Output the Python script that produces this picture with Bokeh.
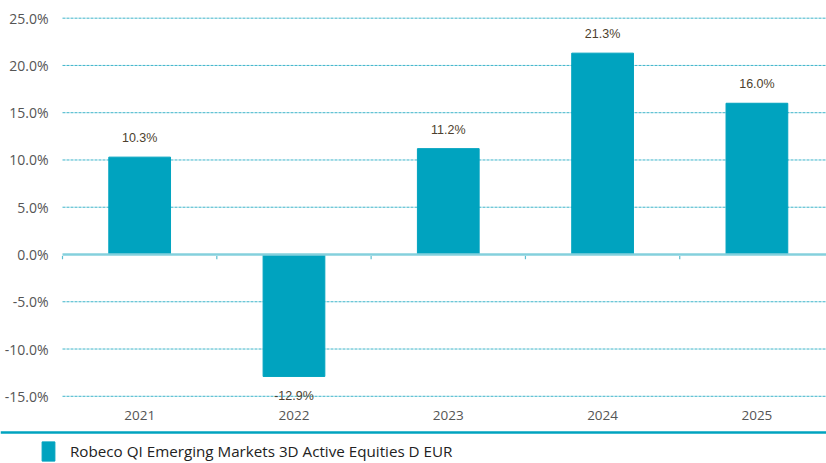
from bokeh.plotting import figure
from bokeh.models import (ColumnDataSource, Range1d, FixedTicker, PrintfTickFormatter,
                          Legend, LegendItem)
from bokeh.core.properties import value
from bokeh.embed import file_html
from bokeh.resources import INLINE

years = ["2021", "2022", "2023", "2024", "2025"]
returns = [10.3, -12.9, 11.2, 21.3, 16.0]
y_ticks = [-15, -10, -5, 0, 5, 10, 15, 20, 25]
series_name = "Robeco QI Emerging Markets 3D Active Equities D EUR"

BAR = "#00a3bf"
GRID = "#3db4ca"
ZERO = "#84d0dd"

X_START, X_END = -0.4018, 4.951

xs = [i + 0.5 for i in range(len(years))]
labels = ["%.1f%%" % v for v in returns]
offsets = [-19 if v >= 0 else 20 for v in returns]
src = ColumnDataSource(dict(x=xs, top=returns, label=labels, yoff=offsets))

p = figure(width=826, height=463, output_backend="svg", toolbar_location=None,
           x_range=Range1d(X_START, X_END), y_range=Range1d(-22.11, 26.87),
           x_axis_location="above",
           min_border_left=0, min_border_right=0, min_border_top=0,
           min_border_bottom=0)
p.outline_line_color = None
p.background_fill_color = "white"

# dashed horizontal grid, starting at the plot's left edge
grid_ticks = [t for t in y_ticks if t != 0]
p.segment(x0=[0] * len(grid_ticks), y0=grid_ticks,
          x1=[X_END] * len(grid_ticks), y1=grid_ticks,
          line_color=GRID, line_width=1, line_dash="3 1")

bars = p.vbar(x="x", top="top", bottom=0, width=0.4, source=src, color=BAR)

# zero line with category boundary ticks
p.segment(x0=[0], y0=[0], x1=[X_END], y1=[0], line_color=ZERO, line_width=2.5)
p.segment(x0=list(range(len(years))), y0=[-0.15] * len(years),
          x1=list(range(len(years))), y1=[-0.5] * len(years),
          line_color="#5ebfd0", line_width=1.2)

p.text(x="x", y="top", text="label", source=src, y_offset="yoff",
       text_align="center", text_baseline="middle",
       text_font=value("Liberation Sans"), text_font_size="12.5px",
       text_color="#4d3f2e")

p.xgrid.grid_line_color = None
p.ygrid.grid_line_color = None

p.yaxis.fixed_location = 0
p.yaxis.ticker = FixedTicker(ticks=y_ticks)
p.yaxis.formatter = PrintfTickFormatter(format="%.1f%%")
p.yaxis.axis_line_color = None
p.yaxis.major_tick_line_color = None
p.yaxis.major_tick_out = 0
p.yaxis.major_tick_in = 0
p.yaxis.minor_tick_line_color = None
p.yaxis.major_label_standoff = 14
p.yaxis.major_label_text_font = "Open Sans"
p.yaxis.major_label_text_font_size = "14px"
p.yaxis.major_label_text_color = "#555555"

# category axis: its line doubles as the separator above the legend
p.xaxis.fixed_location = -18.80
p.xaxis.ticker = FixedTicker(ticks=xs)
p.xaxis.major_label_overrides = {x: y for x, y in zip(xs, years)}
p.xaxis.axis_line_color = BAR
p.xaxis.axis_line_width = 2.5
p.xaxis.major_tick_line_color = None
p.xaxis.major_tick_out = 0
p.xaxis.major_tick_in = 0
p.xaxis.minor_tick_line_color = None
p.xaxis.major_label_standoff = 12
p.xaxis.major_label_text_font = "Open Sans"
p.xaxis.major_label_text_font_size = "13.5px"
p.xaxis.major_label_text_color = "#555555"

leg = Legend(items=[LegendItem(label=series_name, renderers=[bars])],
             location=(40, 0), padding=0, margin=0, spacing=0,
             glyph_width=16, glyph_height=24, label_standoff=14,
             border_line_color=None, background_fill_alpha=0,
             label_text_font="Open Sans", label_text_font_size="15.2px",
             label_text_color="#222222")
p.add_layout(leg)

open("out.html", "w").write(file_html(p, INLINE))
